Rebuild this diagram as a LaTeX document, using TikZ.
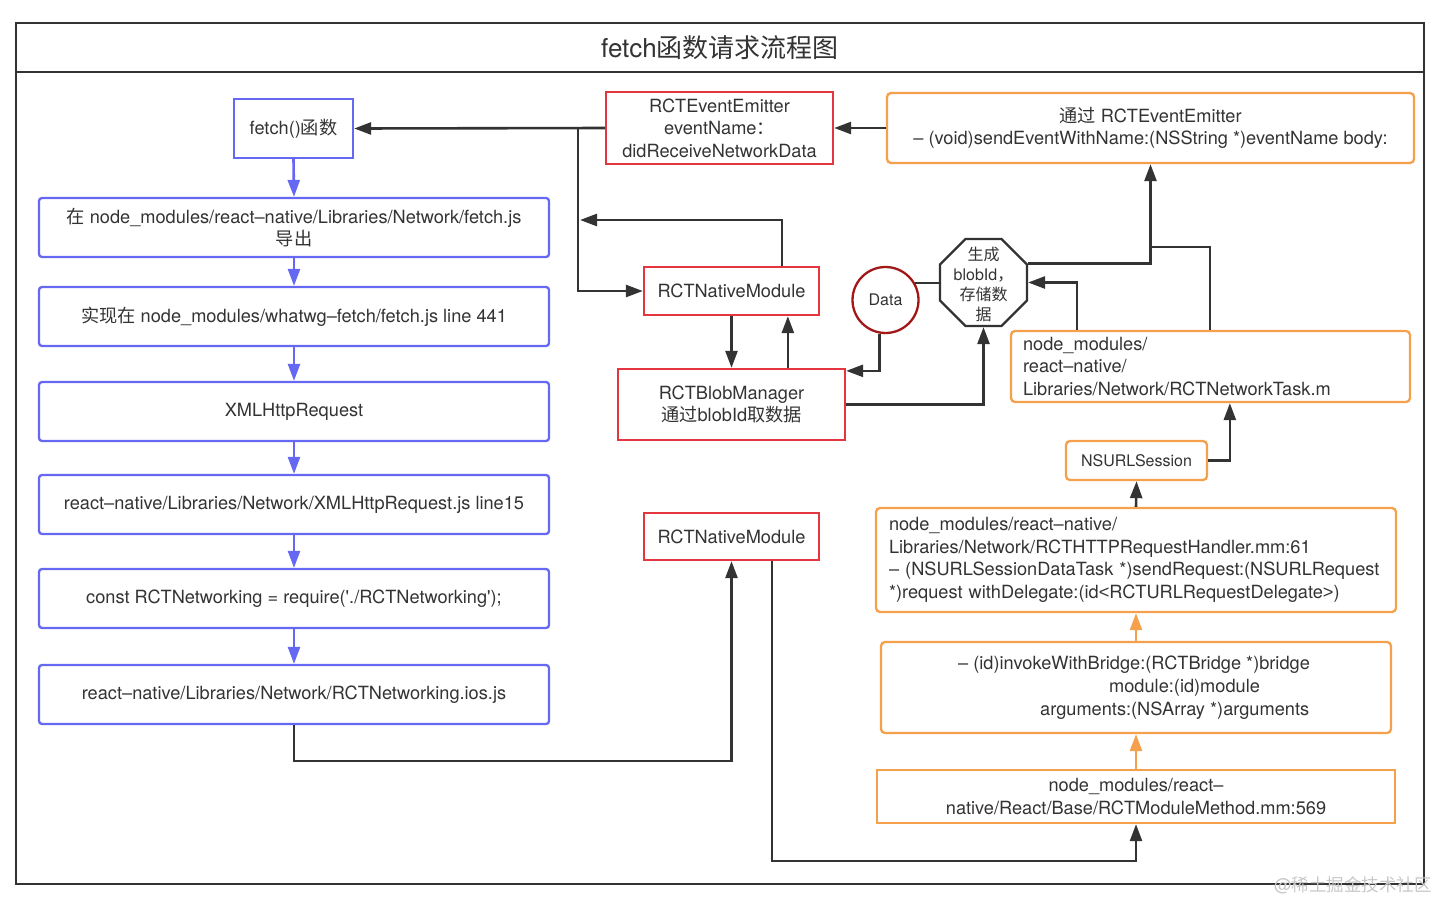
\documentclass[tikz,border=0pt]{standalone}
\usepackage{fontspec}
\setmainfont{TeX Gyre Heros}[Ligatures=TeXOff]
\newfontfamily\cjk{Noto Sans CJK SC}
\newfontfamily\lib{Liberation Sans}
\usetikzlibrary{arrows.meta,shapes.geometric,calc}
\definecolor{txt}{HTML}{333333}
\definecolor{ln}{HTML}{333333}
\definecolor{bl}{HTML}{6468F2}
\definecolor{rd}{HTML}{E4363F}
\definecolor{og}{HTML}{F5A04D}
\definecolor{dr}{HTML}{A01818}
\begin{document}
\begin{tikzpicture}[x=1pt,y=-1pt,
  font=\fontsize{18.2}{22.5}\selectfont, text=txt,
  bluebox/.style={draw=bl, line width=2.3pt, rounded corners=3pt, inner sep=0pt, align=center, minimum width=510pt, minimum height=59pt},
  redbox/.style={draw=rd, line width=2.3pt, inner sep=0pt, align=center},
  orbox/.style={draw=og, line width=2.3pt, rounded corners=4pt, inner sep=0pt, align=center},
  arr/.style={draw=ln, line width=2.6pt, -{Triangle[length=17pt,width=12pt]}},
  barr/.style={draw=bl, line width=2.6pt, -{Triangle[length=17pt,width=12pt]}},
  oarr/.style={draw=og, line width=2.6pt, -{Triangle[length=17pt,width=12pt]}},
  plainln/.style={draw=ln, line width=2.6pt},
]
\useasboundingbox (0,0) rectangle (1440,903);
% frame
\draw[ln, line width=2.6pt] (16,23) rectangle (1424,884);
\draw[ln, line width=2.6pt] (16,72) -- (1424,72);
\node (title) at (720,48) {\fontsize{26}{30}\selectfont fetch{\cjk 函数请求流程图}};

% left column
\node[draw=bl, line width=2.3pt, inner sep=0pt, minimum width=119pt, minimum height=59pt] (fetch) at (293.5,128.5) {fetch(){\cjk 函数}};
\node[bluebox] (b2) at (294,227.5) {{\cjk 在} node\_modules/react–native/Libraries/Network/fetch.js\\{\cjk 导出}};
\node[bluebox] (b3) at (294,316.5) {{\cjk 实现在} node\_modules/whatwg–fetch/fetch.js line 441};
\node[bluebox] (b4) at (294,411.5) {XMLHttpRequest};
\node[bluebox] (b5) at (294,504.5) {react–native/Libraries/Network/XMLHttpRequest.js line15};
\node[bluebox] (b6) at (294,598.5) {const RCTNetworking = require('./RCTNetworking');};
\node[bluebox] (b7) at (294,694.5) {react–native/Libraries/Network/RCTNetworking.ios.js};

% red boxes
\node[redbox, minimum width=227pt, minimum height=72pt] (ee) at (719.5,128) {RCTEventEmitter\\eventName{\cjk ：}\\didReceiveNetworkData};
\node[redbox, minimum width=175pt, minimum height=48pt] (nm1) at (731.5,291) {RCTNativeModule};
\node[redbox, minimum width=227pt, minimum height=71pt] (bm) at (731.5,404.5) {RCTBlobManager\\{\cjk 通过}blobId{\cjk 取数据}};
\node[redbox, minimum width=175pt, minimum height=47pt] (nm2) at (731.5,536.5) {RCTNativeModule};

% data circle and octagon
\node[circle, draw=dr, line width=2.3pt, minimum size=66pt, inner sep=0pt, font=\fontsize{16}{20}\selectfont] (data) at (885.5,300) {Data};
\node[regular polygon, regular polygon sides=8, draw=ln, line width=2.3pt, minimum size=94pt, inner sep=0pt] (oct) at (983.5,282.5) {};
\node[align=center, inner sep=0pt, font=\fontsize{16}{20}\selectfont] (octt) at (983.5,284) {{\cjk 生成}\\blobId{\cjk ，}\\{\cjk 存储数}\\{\cjk 据}};

% orange boxes
\node[orbox, minimum width=527pt, minimum height=70pt] (top) at (1150.5,128) {{\cjk 通过} RCTEventEmitter\\– (void)sendEventWithName:(NSString *)eventName body:};
\node[orbox, minimum width=399pt, minimum height=71pt, align=left, text width=375pt, inner xsep=12pt] (task) at (1210.5,366.5) {node\_modules/\\react–native/\\Libraries/Network/RCTNetworkTask.m};
\node[orbox, minimum width=141pt, minimum height=39pt, font=\fontsize{16}{20}\selectfont] (url) at (1136.5,460.5) {NSURLSession};
\node[orbox, minimum width=520pt, minimum height=104pt, align=left, text width=494pt, inner xsep=13pt] (http) at (1136,560) {node\_modules/react–native/\\Libraries/Network/RCTHTTPRequestHandler.mm:61\\– (NSURLSessionDataTask *)sendRequest:(NSURLRequest\\{*})request withDelegate:(id{\lib <}RCTURLRequestDelegate{\lib >})};
\node[orbox, minimum width=510pt, minimum height=91pt] (inv) at (1136,687.5) {};
\node[anchor=west, inner sep=0pt] (inv1) at (958,665) {– (id)invokeWithBridge:(RCTBridge *)bridge};
\node[anchor=west, inner sep=0pt] (inv2) at (1109,688) {module:(id)module};
\node[anchor=west, inner sep=0pt] (inv3) at (1040,711) {arguments:(NSArray *)arguments};
\node[draw=og, line width=2.3pt, inner sep=0pt, align=center, minimum width=518pt, minimum height=53pt] (mm) at (1136,796.5) {node\_modules/react–\\native/React/Base/RCTModuleMethod.mm:569};

% watermark
\node[anchor=west, inner sep=0pt, text=black!22, font=\fontsize{17.5}{20}\selectfont] (wm) at (1274,885) {@{\cjk 稀土掘金技术社区}};

% blue arrows
\draw[barr] (fetch.south) -- (b2.north);
\draw[barr] (b2.south) -- (b3.north);
\draw[barr] (b3.south) -- (b4.north);
\draw[barr] (b4.south) -- (b5.north);
\draw[barr] (b5.south) -- (b6.north);
\draw[barr] (b6.south) -- (b7.north);

% dark connectors
\coordinate (j1) at (578,128);
\coordinate (j2) at (580,220);
\coordinate (j3) at (1150.5,247);
\draw[arr] (ee.west) -- (fetch.east);
\draw[arr] (j1) |- (nm1.west);
\draw[arr] ($(nm1.north west)+(139,0)$) |- (j2);
\draw[arr] (top.west) -- (ee.east);
\draw[arr] (nm1.south) -- (bm.north);
\draw[arr] ($(bm.north west)+(171,0)$) -- ($(nm1.south west)+(145,0)$);
\draw[arr] (data.-100) |- ($(bm.north east)+(0,3)$);
\draw[plainln] (data.30) -- (data.30 -| oct.west);
\draw[arr] (bm.east) -| (oct.south);
\draw[arr] ($(task.north west)+(67,0)$) |- (oct.east);
\draw[arr] ($(oct.east)+(0,-19)$) -| (top.south);
\draw[plainln] ($(task.north west)+(200,0)$) |- (j3);
\draw[arr] (url.east) -| ($(task.south west)+(220,0)$);
\draw[arr] (http.north) -- (url.south);
\draw[oarr] (inv.north) -- (http.south);
\draw[oarr] (mm.north) -- (inv.south);
\draw[arr] ($(nm2.south west)+(129,0)$) -- ++(0,300) -| (mm.south);
\draw[arr] (b7.south) -- ++(0,36) -| (nm2.south);
\end{tikzpicture}
\end{document}
